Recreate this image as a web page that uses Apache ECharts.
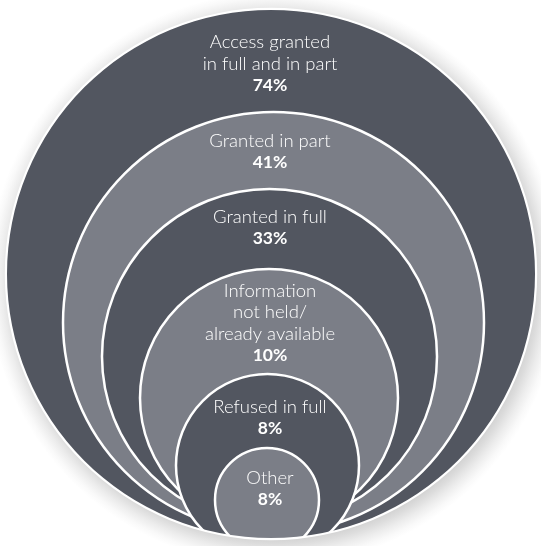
<!DOCTYPE html>
<html><head><meta charset="utf-8">
<script src="https://cdn.jsdelivr.net/npm/echarts@6/dist/echarts.min.js"></script>
<style>html,body{margin:0;padding:0;background:#fff}#c{width:541px;height:546px}</style>
</head><body><div id="c"></div>
<script>
// ---- data ----
const categories = [
  'Access granted\nin full and in part',
  'Granted in part',
  'Granted in full',
  'Information\nnot held/\nalready available',
  'Refused in full',
  'Other'
];
const values = [74, 41, 33, 10, 8, 8];
const valueLabels = values.map(v => v + '%');

// ---- layout (not data) ----
const DARK = '#525660', LIGHT = '#7b7e87';
const layout = [
  {cx: 271,   cy: 274,   r: 265,   ly: 64},
  {cx: 273.5, cy: 322.5, r: 210.5, ly: 152},
  {cx: 269.5, cy: 356.5, r: 167.5, ly: 228},
  {cx: 269,   cy: 398,   r: 129,   ly: 323},
  {cx: 267.5, cy: 465.5, r: 91.5,  ly: 418},
  {cx: 267,   cy: 500,   r: 52,    ly: 489}
];
const LABEL_X = 270;
const O = layout[0];
const BIG = 900;

const rich = {
  n: {fontFamily: 'Lato', fontSize: 18.5, fontWeight: 300, color: '#ffffff', lineHeight: 21.5},
  v: {fontFamily: 'Lato', fontSize: 17.5, fontWeight: 'bold', color: '#ffffff', lineHeight: 21.5}
};

const series = categories.map((name, i) => {
  const L = layout[i];
  return {
    type: 'pie', silent: true, animation: false, z: 2 + i,
    center: [L.cx, L.cy], radius: [0, L.r],
    startAngle: 90, clockwise: true,
    itemStyle: {color: i % 2 ? LIGHT : DARK, borderColor: '#ffffff', borderWidth: i === 0 ? 0 : 2.5},
    label: {
      show: true, position: 'center',
      formatter: () => categories[i].split('\n').map(l => '{n|' + l + '}').join('\n') + '\n{v|' + valueLabels[i] + '}',
      rich: rich
    },
    labelLine: {show: false},
    labelLayout: {dx: LABEL_X - L.cx, dy: L.ly - L.cy},
    emphasis: {disabled: true},
    data: [{name: name, value: values[i]}]
  };
});

// mask outside the outer circle (clips inner circles) with soft drop shadow
const d = o => o / BIG;
series.push({
  type: 'pie', silent: true, animation: false, z: 30,
  center: [O.cx, O.cy], radius: [O.r, BIG],
  label: {show: false}, labelLine: {show: false}, emphasis: {disabled: true},
  itemStyle: {
    borderWidth: 0,
    color: {
      type: 'radial', x: 0.5 + 4 / (2 * BIG), y: 0.5 + 5 / (2 * BIG), r: 0.5,
      colorStops: [
        {offset: 0, color: '#cfcfcf'},
        {offset: d(O.r - 8), color: '#cfcfcf'},
        {offset: d(O.r), color: '#dcdcdc'},
        {offset: d(O.r + 8), color: '#ececec'},
        {offset: d(O.r + 16), color: '#f9f9f9'},
        {offset: d(O.r + 22), color: '#ffffff'},
        {offset: 1, color: '#ffffff'}
      ]
    }
  },
  data: [{name: 'mask', value: 1}]
});
// white outline of the outer circle
series.push({
  type: 'pie', silent: true, animation: false, z: 31,
  center: [O.cx, O.cy], radius: [O.r - 1, O.r + 1.2],
  label: {show: false}, labelLine: {show: false}, emphasis: {disabled: true},
  itemStyle: {color: '#ffffff', borderWidth: 0},
  data: [{name: 'outline', value: 1}]
});

const chart = echarts.init(document.getElementById('c'), null, {renderer: 'canvas'});
chart.setOption({
  backgroundColor: '#ffffff',
  animation: false,
  tooltip: {show: false},
  series: series
});
</script>
</body></html>
